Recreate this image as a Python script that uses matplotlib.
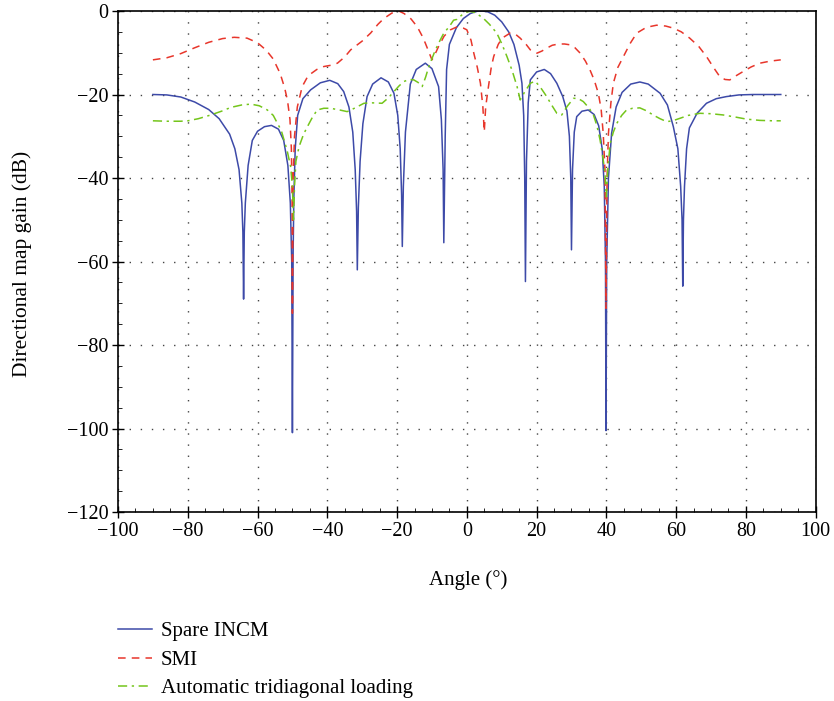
import matplotlib
matplotlib.use("Agg")
import matplotlib.pyplot as plt
from matplotlib.ticker import MultipleLocator

plt.rcParams['font.family'] = ['Liberation Serif', 'DejaVu Serif']

# Spare INCM (blue, solid)
incm_angle = [-90, -86, -82, -78, -74, -71, -68, -66.5, -65.3, -64.5, -64.2, -64.0, -63.8, -63.5, -62.7, -61.5,
              -60, -58, -56, -54, -52.5, -51.3, -50.6, -50.2, -50.0, -49.8, -49.6, -49.2, -48.5,
              -47, -44.8, -42, -39.3, -37, -35.3, -33.8, -32.7, -32.0, -31.6, -31.4, -31.1, -30.6,
              -29.8, -28.6, -27, -24.6, -22.5, -20.9, -19.8, -19.1, -18.7, -18.5, -18.2, -17.6,
              -16.2, -14.5, -11.9, -10, -8.1, -7.3, -6.8, -6.6, -6.2, -5.8, -5, -3, -1, 1, 3, 4.5,
              6, 8, 10, 12, 13.5, 15, 15.8, 16.3, 16.6, 16.8, 17.1, 17.6, 18.2, 20, 22.2, 24, 25.8,
              27.5, 28.7, 29.4, 29.8, 30.0, 30.3, 30.8, 31.5, 33, 34.8, 36.5, 37.8, 38.8, 39.4,
              39.75, 39.9, 40.1, 40.6, 41.5, 42.8, 44.5, 47, 49.6, 52, 55.4, 57.5, 59.2, 60.5,
              61.3, 61.7, 61.9, 62.1, 62.4, 63.0, 63.8, 66, 68.7, 71.5, 74.4, 78, 82, 86, 90]
incm_gain = [-20.0, -20.1, -20.6, -21.8, -23.6, -25.8, -29.5, -33, -38, -46, -53, -69, -53, -46, -37, -31,
             -28.8, -27.7, -27.4, -28.3, -31, -37, -46, -60, -101, -58, -45, -33, -25,
             -21, -18.9, -17.2, -16.6, -17.4, -19.3, -23, -29, -38, -48, -62, -47, -36,
             -27, -20.5, -17.5, -16.0, -17, -19.7, -25, -33, -44, -56.4, -42, -29,
             -17.5, -14, -12.5, -13.8, -18.1, -26, -38, -55.5, -30, -14, -8, -4, -1.8, -0.6, -0.05, 0,
             -0.2, -1.0, -2.6, -5.0, -8, -13, -17.3, -25, -40, -64.8, -36, -22, -16.5, -14.6, -14.0, -15, -17.3,
             -20.5, -24, -30, -40, -57.2, -38, -29, -25.3, -24, -23.7, -24.8, -27.5, -33, -42,
             -60, -100.5, -60, -40, -29.3, -23, -19.5, -17.5, -17.0, -17.5, -19.7, -22.5, -27.7, -33,
             -42, -50, -65.9, -50, -42, -33, -28, -24.5, -22.1, -21, -20.5, -20.1, -20.0, -20.0, -20.0]

# SMI (red, dashed)
smi_angle = [-90, -86, -82, -78, -74, -70, -66.7, -63, -60, -57.5, -55.5, -53.5, -52.2, -51.4,
             -50.7, -50.3, -50.1, -50.0, -49.8, -49.4, -48.6, -47.2, -45.5, -43, -41, -39, -37.1,
             -35, -33.3, -30, -27.6, -25.5, -23.8, -21.5, -19.5, -18, -16, -14.2, -12.8, -11.9,
             -10.8, -10.0, -9.2, -8.1, -6.5, -4.7, -2.8, -1, 0, 1.2, 2, 3, 3.9, 4.6, 5.0, 5.4, 6.2,
             7, 7.7, 9, 10.1, 12.4, 14, 15.3, 17, 18.2, 20.1, 21.5, 22.9, 24.5, 26.3, 28, 29.6, 31,
             32.5, 34, 35.3, 36.5, 37.7, 38.5, 39.1, 39.6, 39.9, 40.2, 40.6, 41.3, 42.0, 43.3, 44.9,
             46.8, 48.7, 51.5, 54.4, 57, 59.2, 61.5, 63.9, 66.5, 68.7, 70.7, 72.5, 74, 75.4, 77,
             79.2, 81.5, 84, 87, 90]
smi_gain = [-11.7, -11.2, -10.2, -8.8, -7.5, -6.6, -6.3, -6.5, -7.6, -9.4, -11.5, -15, -18.5, -21.5,
            -26, -33, -45, -72.4, -40, -30, -23, -18.1, -15.5, -14, -13.3, -13, -12.5,
            -11, -9.3, -7.2, -5.3, -3.2, -1.8, -0.5, 0, -0.6, -1.9, -3.8, -6, -7.7,
            -10, -11.7, -10.5, -8.5, -6, -4.5, -3.8, -4.1, -4.5, -7, -10.1, -13.5, -17.3, -23, -28.9, -23, -18.1,
            -13.5, -10.9, -8, -6.5, -5.3, -5.6, -6.5, -8, -9.3, -10.1, -9.6, -8.9, -8.2, -7.9, -7.9, -8.1, -8.8,
            -10.1, -12, -14.1, -16.5, -19.7, -23.5, -29.3, -38, -71.2, -40, -29.3, -22, -17.3, -13.5, -10.9,
            -7.8, -5.3, -3.9, -3.4, -3.6, -4.1, -5, -6.5, -8.5, -10.9, -13.5, -15.7, -16.4, -16.5, -15.6,
            -14.5, -13.4, -12.5, -12, -11.7]

# Automatic tridiagonal loading (green, dash-dot)
atl_angle = [-90, -86, -82, -80, -77, -73.4, -70, -67.7, -64.5, -61.9, -59.5, -57.2, -55.5, -54.3,
             -53.2, -52.4, -51.5, -50.5, -50.0, -49.7, -49.4, -49, -48.1, -46.8, -45.7, -44.3, -42.9,
             -41, -39.1, -36.5, -34.3, -32, -29.5, -27, -24.3, -22.5, -20.9, -19.5, -18.1, -16.5,
             -15.2, -14, -12.8, -11.8, -10.9, -9.0, -7.6, -6.6, -5, -3.8, -2.8, -1.5, 0, 1, 2.5, 4.8,
             6.5, 8.6, 10, 11.5, 13, 14.4, 15.3, 16.5, 18.2, 19.6, 21.2, 22.9, 24.3, 25.8, 27.2, 28.8,
             30.6, 32, 33.4, 35, 36.3, 37.3, 38.2, 39.0, 39.6, 40.0, 40.4, 41.1, 42, 43.0, 44.4, 45.8,
             47.5, 49.6, 51.5, 53.4, 55.4, 57.3, 59, 61.1, 63.5, 66.8, 70, 73.5, 77, 80.2, 84, 87.8, 90]
atl_gain = [-26.3, -26.4, -26.4, -26.3, -25.8, -24.9, -23.9, -23.1, -22.5, -22.3, -22.7, -23.7, -25, -26.9,
            -28.6, -30.9, -33.5, -37.3, -42, -50, -42, -36, -32.5, -29.5, -27.7, -25.5, -23.7,
            -23.3, -23.3, -23.7, -24.1, -23.2, -22.1, -22, -22.1, -20.8, -19.3, -18, -16.9, -16.4,
            -16.5, -17.1, -18.1, -15.8, -13.3, -9.3, -6.9, -5.3, -3.7, -2.2, -2.0, -1.0, -0.2, -0.1, -0.4, -1.8,
            -3.2, -5.3, -7.8, -10.9, -14.3, -18.1, -21.3, -19.5, -17.3, -16.8, -18.4, -20.5, -22.5, -24.5, -24.9, -22.8,
            -20.9, -21, -21.7, -23.2, -24.9, -27.5, -30.9, -35, -38.8, -44.5, -38, -31.7, -29, -26.9, -25, -23.7,
            -23.3, -23.2, -23.9, -24.9, -25.8, -26.5, -26.3, -25.7, -25.0, -24.5, -24.6, -24.9, -25.4, -25.9, -26.2, -26.3, -26.3]

x_ticks = list(range(-100, 101, 20))
y_ticks = list(range(-120, 1, 20))


def minus(v):
    return ('\u2212' if v < 0 else '') + str(abs(v))


fig = plt.figure(figsize=(8.34, 7.01), dpi=100)
ax = fig.add_axes([0.1415, 0.2696, 0.8365, 0.7147])

l1, = ax.plot(incm_angle, incm_gain, color='#3d4aa8', lw=1.1, label='Spare INCM')
l2, = ax.plot(smi_angle, smi_gain, color='#e8362b', lw=1.1, ls=(0, (5, 4)), label='SMI')
l3, = ax.plot(atl_angle, atl_gain, color='#74c51b', lw=1.1, ls=(0, (6, 3, 1.5, 3)),
              label='Automatic tridiagonal loading')

ax.set_xlim(-100, 100)
ax.set_ylim(-120, 0)
ax.xaxis.set_minor_locator(MultipleLocator(5))
ax.yaxis.set_minor_locator(MultipleLocator(5))
ax.set_xticks(x_ticks)
ax.set_xticklabels([minus(v) for v in x_ticks])
ax.set_yticks(y_ticks)
ax.set_yticklabels([minus(v) for v in y_ticks])
ax.grid(True, which='major', color='#444444', ls=(0, (1, 7)), lw=1.0)
ax.tick_params(which='major', direction='inout', length=8, width=1.0, labelsize=14.5, pad=3)
ax.tick_params(which='minor', direction='in', length=3, width=0.6)
for s in ax.spines.values():
    s.set_linewidth(1.2)

fig.text(0.026, 0.6234, 'Directional map gain (dB)', rotation=90, va='center', ha='center', fontsize=15.5)
fig.text(0.561, 0.173, 'Angle (°)', ha='center', va='center', fontsize=15)

fig.legend(handles=[l1, l2, l3], loc='upper left', bbox_to_anchor=(0.132, 0.125),
           frameon=False, fontsize=15, handlelength=1.63, handletextpad=0.4, labelspacing=0.43,
           borderaxespad=0)

fig.savefig('out.png', dpi=100)
